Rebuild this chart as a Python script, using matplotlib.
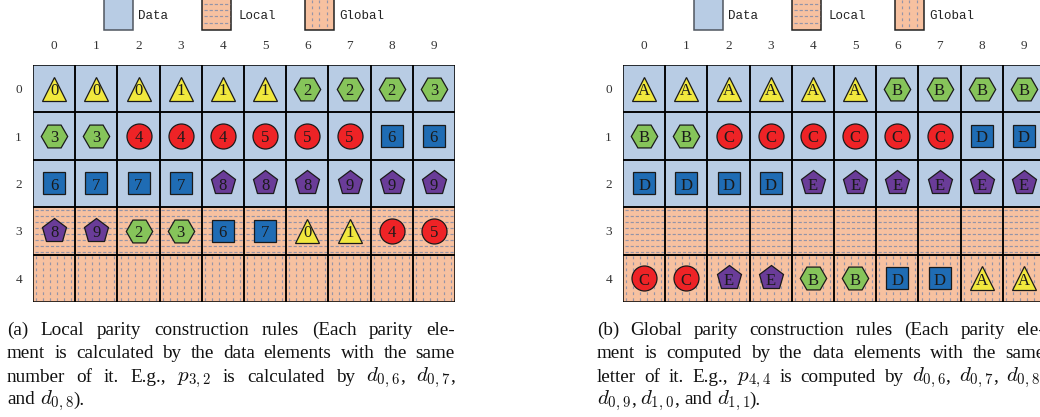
import re
import matplotlib
matplotlib.use('Agg')
import matplotlib.pyplot as plt
from matplotlib.patches import Rectangle

plt.rcParams['mathtext.fontset'] = 'cm'
plt.rcParams['font.family'] = ['Liberation Serif', 'DejaVu Serif']
plt.rcParams['lines.scale_dashes'] = False

# ---------------- data ----------------
col_labels = ['0', '1', '2', '3', '4', '5', '6', '7', '8', '9']
row_labels = ['0', '1', '2', '3', '4']
row_types = ['data', 'data', 'data', 'local', 'global']

local_rule = [
    ['0', '0', '0', '1', '1', '1', '2', '2', '2', '3'],
    ['3', '3', '4', '4', '4', '5', '5', '5', '6', '6'],
    ['6', '7', '7', '7', '8', '8', '8', '9', '9', '9'],
    ['8', '9', '2', '3', '6', '7', '0', '1', '4', '5'],
    ['', '', '', '', '', '', '', '', '', ''],
]
global_rule = [
    ['A', 'A', 'A', 'A', 'A', 'A', 'B', 'B', 'B', 'B'],
    ['B', 'B', 'C', 'C', 'C', 'C', 'C', 'C', 'D', 'D'],
    ['D', 'D', 'D', 'D', 'E', 'E', 'E', 'E', 'E', 'E'],
    ['', '', '', '', '', '', '', '', '', ''],
    ['C', 'C', 'E', 'E', 'B', 'B', 'D', 'D', 'A', 'A'],
]
symbol_group = {'0': 0, '1': 0, '2': 1, '3': 1, '4': 2, '5': 2, '6': 3, '7': 3,
                '8': 4, '9': 4, 'A': 0, 'B': 1, 'C': 2, 'D': 3, 'E': 4}

legend_labels = ['Data', 'Local', 'Global']

caption_a = [
    "(a) Local parity construction rules (Each parity ele-",
    "ment is calculated by the data elements with the same",
    "number of it. E.g., $p_{3,2}$ is calculated by $d_{0,6}$, $d_{0,7}$,",
    "and $d_{0,8}$).",
]
caption_b = [
    "(b) Global parity construction rules (Each parity ele-",
    "ment is computed by the data elements with the same",
    "letter of it. E.g., $p_{4,4}$ is computed by $d_{0,6}$, $d_{0,7}$, $d_{0,8}$,",
    "$d_{0,9}$, $d_{1,0}$, and $d_{1,1}$).",
]

# ---------------- styles ----------------
group_markers = ['^', 'H', 'o', 's', 'p']
group_colors = ['#f1e83d', '#86c45a', '#ee2326', '#1f6cb4', '#6a3c98']
group_sizes = [17.5, 19.0, 18.0, 16.5, 18.5]
cell_colors = {'data': '#b8cce4', 'local': '#f7c1a0', 'global': '#f7c1a0'}
hatch_color = '#9494a8'

W, H = 1040, 417
fig = plt.figure(figsize=(W / 100, H / 100), dpi=100)

# overlay axes in pixel coordinates for legend and captions
ov = fig.add_axes([0, 0, 1, 1])
ov.set_xlim(0, W)
ov.set_ylim(H, 0)
ov.axis('off')


def draw_grid(ax, rule):
    nr, nc = len(rule), len(rule[0])
    ax.set_xlim(-0.5, nc - 0.5)
    ax.set_ylim(nr - 0.5, -0.5)
    for r in range(nr):
        kind = row_types[r]
        for c in range(nc):
            ax.add_patch(Rectangle((c - 0.5, r - 0.5), 1, 1, facecolor=cell_colors[kind],
                                   edgecolor='none', zorder=1))
            ax.add_patch(Rectangle((c - 0.5, r - 0.5), 1, 1, fill=False,
                                   edgecolor='black', lw=1.1, zorder=3))
            if kind == 'local':
                for k in range(8):
                    y = r - 0.5 + (k + 0.5) / 8
                    ax.plot([c - 0.46, c + 0.48], [y, y], color=hatch_color, lw=0.85,
                            linestyle=(0, (2.3, 1.4)), zorder=2)
            elif kind == 'global':
                for k in range(6):
                    x = c - 0.5 + (k + 0.45) / 6
                    ax.plot([x, x], [r - 0.46, r + 0.48], color=hatch_color, lw=0.85,
                            linestyle=(0, (2.0, 2.3)), zorder=2)
            s = rule[r][c]
            if s:
                g = symbol_group[s]
                ax.plot(c, r, marker=group_markers[g], ms=group_sizes[g],
                        mfc=group_colors[g], mec='#1a1a1a', mew=0.9, zorder=4)
                ax.text(c, r + 0.05, s, ha='center', va='center', fontsize=12,
                        color='#1a1a1a', zorder=5)
    ax.xaxis.tick_top()
    ax.set_xticks(range(nc))
    ax.set_xticklabels(col_labels, fontsize=9.5, color='#333333')
    ax.set_yticks(range(nr))
    ax.set_yticklabels(row_labels, fontsize=9.5, color='#333333')
    ax.tick_params(axis='x', length=0, pad=9.5)
    ax.tick_params(axis='y', length=0, pad=8)
    for sp in ax.spines.values():
        sp.set_visible(False)


def draw_legend(off):
    xs = [104, 202, 305]
    txs = [138, 238, 339]
    for i, lab in enumerate(legend_labels):
        x = off + xs[i]
        kind = ['data', 'local', 'global'][i]
        ec = '#50565f' if kind == 'data' else '#222222'
        ov.add_patch(Rectangle((x, -10), 29, 40, facecolor=cell_colors[kind],
                               edgecolor=ec, lw=1.1, zorder=2))
        if kind == 'local':
            for yy in [4, 10, 16, 22.5]:
                ov.plot([x + 1.5, x + 27.5], [yy, yy], color=hatch_color, lw=0.85,
                        linestyle=(0, (2.3, 1.4)), zorder=3)
        elif kind == 'global':
            for xx in [6.5, 14, 21.5]:
                ov.plot([x + xx, x + xx], [0, 28.5], color=hatch_color, lw=0.85,
                        linestyle=(0, (2.0, 2.3)), zorder=3)
        ov.text(off + txs[i], 16, lab, ha='left', va='center', fontsize=9,
                family='Liberation Mono', color='#222222')


def make_word(w, yb, fs, rend):
    """A word may mix math and plain pieces; returns list of (text, width)."""
    pieces = [p for p in re.split(r'(\$[^$]*\$)', w) if p]
    out = []
    for p in pieces:
        size = fs * 1.1 if p.startswith('$') else fs
        t = ov.text(0, yb, p, ha='left', va='baseline', fontsize=size,
                    color='#111111', clip_on=False)
        out.append((t, t.get_window_extent(rend).width))
    return out


def draw_caption(lines, x0, x1, baselines, fs=13.8):
    rend = fig.canvas.get_renderer()
    for i, (line, yb) in enumerate(zip(lines, baselines)):
        words = [make_word(w, yb, fs, rend) for w in line.split(' ')]
        widths = [sum(wd for _, wd in wp) for wp in words]
        if i == len(lines) - 1:
            gap = 0.25 * fs * 100 / 72
        else:
            gap = (x1 - x0 - sum(widths)) / (len(words) - 1)
        x = x0
        for wp, wtot in zip(words, widths):
            xx = x
            for t, wd in wp:
                t.set_x(xx)
                xx += wd
            x += wtot + gap


axL = fig.add_axes([33 / W, (H - 302) / H, 422 / W, 237 / H])
axR = fig.add_axes([623 / W, (H - 302) / H, 422 / W, 237 / H])
draw_grid(axL, local_rule)
draw_grid(axR, global_rule)
draw_legend(0)
draw_legend(590)
base = [335, 358, 381.5, 404.5]
draw_caption(caption_a, 7, 455, base)
draw_caption(caption_b, 597, 1045, base)

fig.savefig('out.png', dpi=100)
